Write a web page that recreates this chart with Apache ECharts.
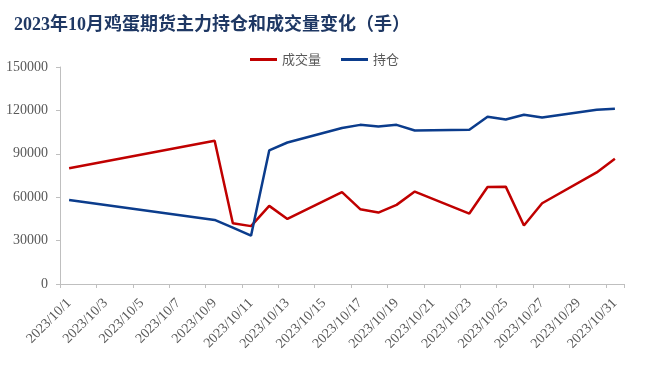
<!DOCTYPE html>
<html>
<head>
<meta charset="utf-8">
<script src="https://cdn.jsdelivr.net/npm/echarts@6/dist/echarts.min.js"></script>
<style>html,body{margin:0;padding:0;background:#fff}#c{width:660px;height:374px}</style>
</head>
<body>
<div id="c"></div>
<script>
var categories = ['2023/10/1','2023/10/2','2023/10/3','2023/10/4','2023/10/5','2023/10/6','2023/10/7','2023/10/8','2023/10/9','2023/10/10',
  '2023/10/11','2023/10/12','2023/10/13','2023/10/14','2023/10/15','2023/10/16','2023/10/17','2023/10/18','2023/10/19','2023/10/20',
  '2023/10/21','2023/10/22','2023/10/23','2023/10/24','2023/10/25','2023/10/26','2023/10/27','2023/10/28','2023/10/29','2023/10/30','2023/10/31'];
var volume = [80000,null,null,null,null,null,null,null,99000,42000,
  40000,54000,45000,null,null,63500,51700,49400,54700,63900,
  null,null,48700,67000,67300,40400,55800,null,null,77100,86500];
var openInterest = [58100,null,null,null,null,null,null,null,44300,39000,
  33400,92300,97800,null,null,107800,110000,108900,110000,106100,
  null,null,106600,115600,113700,117000,115100,null,null,120400,121100];
var yTicks = [0,30000,60000,90000,120000,150000];
var seriesNames = ['成交量','持仓'];

var chart = echarts.init(document.getElementById('c'), null, {renderer:'canvas'});
var serif = "'Liberation Serif','Times New Roman','Noto Sans CJK SC',serif";
chart.setOption({
  animation:false,
  backgroundColor:'#ffffff',
  title:{
    text:'2023年10月鸡蛋期货主力持仓和成交量变化（手）',
    left:9, top:11,
    textStyle:{fontFamily:serif, fontWeight:'bold', fontSize:18, color:'#1F3864'}
  },
  legend:{
    data:seriesNames,
    left:245, top:48,
    icon:'rect', itemWidth:27, itemHeight:3, itemGap:20,
    textStyle:{fontFamily:"'Noto Sans CJK SC',sans-serif", fontSize:13, color:'#595959'}
  },
  grid:{left:60, right:36, top:67, bottom:90, containLabel:false},
  xAxis:{
    type:'category',
    data:categories,
    boundaryGap:true,
    axisLine:{lineStyle:{color:'#BFBFBF', width:1}},
    axisTick:{show:true, interval:1, length:4, lineStyle:{color:'#BFBFBF'}},
    axisLabel:{interval:1, rotate:45, fontFamily:serif, fontSize:14, color:'#595959', margin:17}
  },
  yAxis:{
    type:'value',
    min:yTicks[0], max:yTicks[yTicks.length-1], interval:30000,
    splitLine:{show:false},
    axisLine:{show:true, lineStyle:{color:'#BFBFBF', width:1}},
    axisTick:{show:true, length:4, lineStyle:{color:'#BFBFBF'}},
    axisLabel:{fontFamily:serif, fontSize:14, color:'#595959', margin:12, formatter:function(v){return String(v);}}
  },
  series:[
    {name:seriesNames[0], type:'line', data:volume, connectNulls:true, symbol:'none',
     lineStyle:{color:'#C00000', width:2.5}, itemStyle:{color:'#C00000'}},
    {name:seriesNames[1], type:'line', data:openInterest, connectNulls:true, symbol:'none',
     lineStyle:{color:'#0B3C8C', width:2.5}, itemStyle:{color:'#0B3C8C'}}
  ]
});
</script>
</body>
</html>
